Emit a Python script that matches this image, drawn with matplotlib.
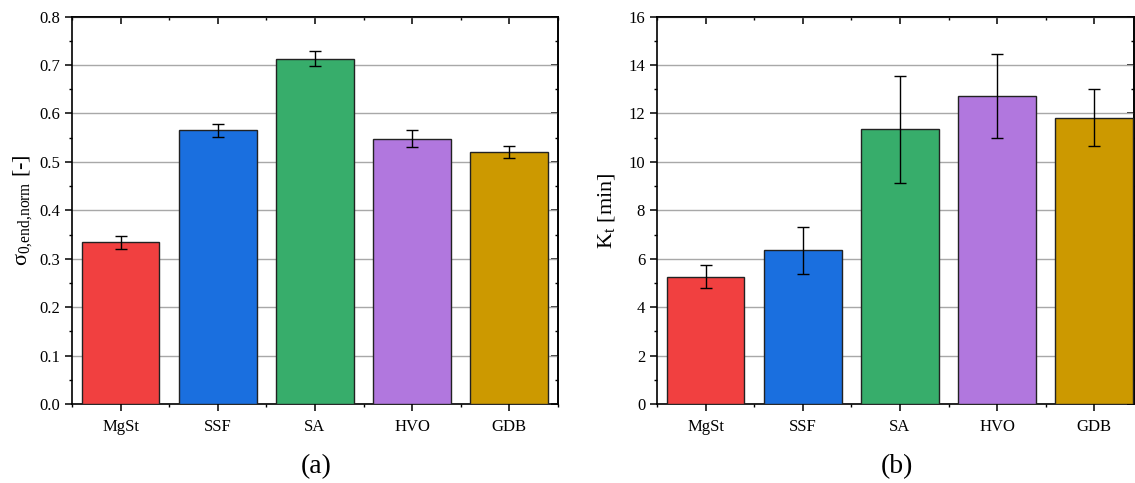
import numpy as np
import matplotlib.pyplot as plt
from matplotlib.ticker import MultipleLocator, FixedLocator

plt.rcParams['font.family'] = ['Liberation Serif', 'DejaVu Serif']
plt.rcParams['mathtext.fontset'] = 'custom'
plt.rcParams['mathtext.rm'] = 'Liberation Serif'
plt.rcParams['mathtext.it'] = 'Liberation Serif:italic'

# Datos
categorias = ['MgSt', 'SSF', 'SA', 'HVO', 'GDB']
colores = ['#F14040', '#1A6FDF', '#37AD6B', '#B177DE', '#CC9900']

sigma = [0.334, 0.565, 0.713, 0.548, 0.520]
sigma_err = [0.013, 0.014, 0.015, 0.017, 0.012]

kt = [5.25, 6.35, 11.35, 12.72, 11.83]
kt_err = [0.48, 0.98, 2.21, 1.73, 1.17]

fig = plt.figure(figsize=(11.35, 4.83), dpi=100)
ax1 = fig.add_axes([0.0634, 0.1636, 0.4282, 0.8020])
ax2 = fig.add_axes([0.5789, 0.1636, 0.4203, 0.8020])


def barras(ax, valores, errores, ylim, paso, xmax):
    x = np.arange(1, len(categorias) + 1)
    ax.bar(x, valores, width=0.8, color=colores, edgecolor='#222222',
           linewidth=1.0, zorder=3)
    ax.errorbar(x, valores, yerr=errores, fmt='none', ecolor='black',
                elinewidth=1.0, capsize=4, capthick=1.0, zorder=4)
    ax.set_xlim(0.5, xmax)
    ax.set_ylim(0, ylim)
    ax.set_xticks(x)
    ax.set_xticklabels(categorias)
    ax.xaxis.set_minor_locator(FixedLocator(np.arange(0.5, 6, 1.0)))
    ax.yaxis.set_major_locator(MultipleLocator(paso))
    ax.yaxis.set_minor_locator(MultipleLocator(paso / 2))
    ax.grid(axis='y', which='major', color='#a8a8a8', linewidth=1.0, zorder=0)
    ax.tick_params(which='major', direction='out', length=5, width=1.1,
                   labelsize=12, color='black')
    ax.tick_params(which='minor', direction='out', length=2.5, width=1.0)
    ax.tick_params(axis='x', pad=6)
    for s in ax.spines.values():
        s.set_linewidth(1.2)

    # Ejes secundarios con ticks hacia adentro
    top = ax.secondary_xaxis('top')
    top.set_xticks(x)
    top.xaxis.set_minor_locator(FixedLocator(np.arange(0.5, 6, 1.0)))
    top.tick_params(which='major', direction='in', length=5, width=1.1,
                    labeltop=False)
    top.tick_params(which='minor', direction='in', length=2.5, width=1.0)
    der = ax.secondary_yaxis('right')
    der.yaxis.set_major_locator(MultipleLocator(paso))
    der.yaxis.set_minor_locator(MultipleLocator(paso / 2))
    der.tick_params(which='major', direction='in', length=5, width=1.1,
                    labelright=False)
    der.tick_params(which='minor', direction='in', length=2.5, width=1.0)
    for sec in (top, der):
        for s in sec.spines.values():
            s.set_linewidth(1.2)


barras(ax1, sigma, sigma_err, 0.8, 0.1, 5.5)
ax1.yaxis.set_major_formatter(plt.FormatStrFormatter('%.1f'))
ax1.set_ylabel('σ$_{\\mathrm{0{,}end{,}norm}}$ [-]', fontsize=16, labelpad=4)

barras(ax2, kt, kt_err, 16, 2, 5.41)
ax2.set_ylabel('K$_{\\mathrm{t}}$ [min]', fontsize=16, labelpad=8)

fig.text(0.279, 0.033, '(a)', fontsize=20, ha='center', va='center')
fig.text(0.790, 0.033, '(b)', fontsize=20, ha='center', va='center')

plt.savefig('out.png', dpi=100)
